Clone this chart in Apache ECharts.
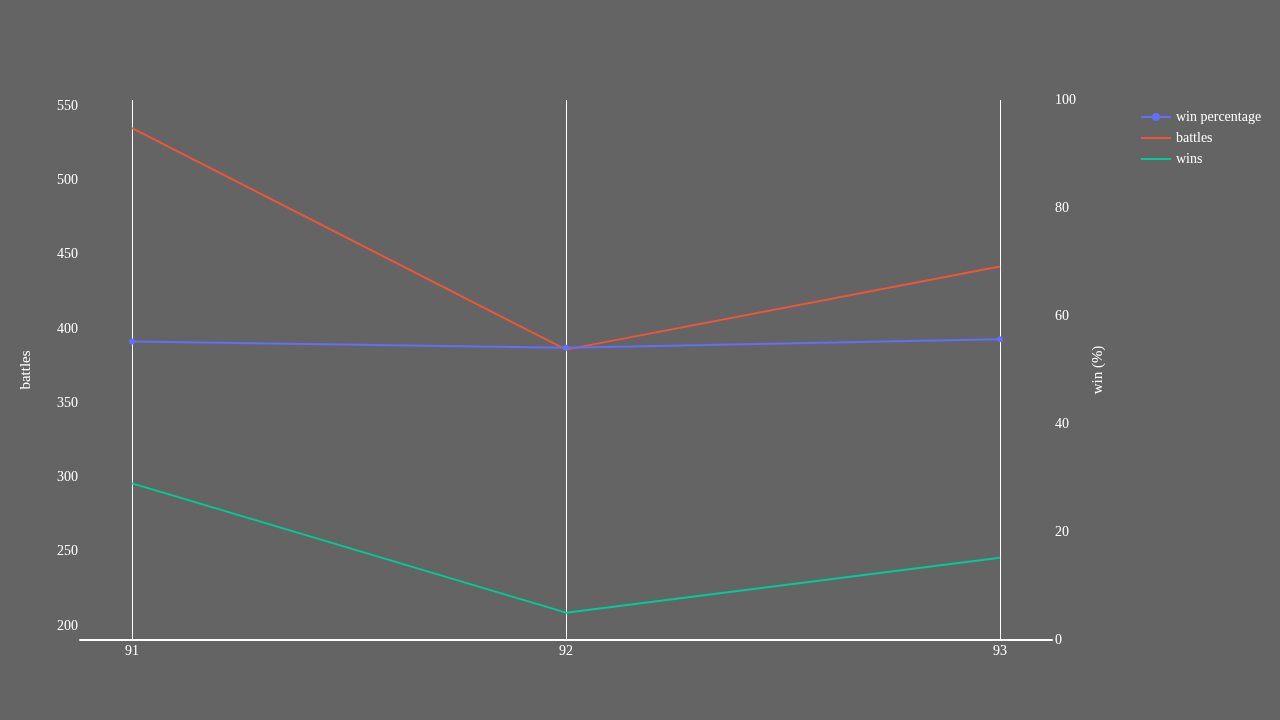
<!DOCTYPE html>
<html>
<head>
<meta charset="utf-8">
<script src="https://cdn.jsdelivr.net/npm/echarts@6/dist/echarts.min.js"></script>
<style>
  html, body { margin: 0; padding: 0; background: #646464; }
  #chart { width: 1280px; height: 720px; }
</style>
</head>
<body>
<div id="chart"></div>
<script>
// 数据
const years = [91, 92, 93]
const battles = [535, 386, 442]
const wins = [296, 209, 246]
const winPct = [55.3, 54.1, 55.7]
const battleTicks = [200, 250, 300, 350, 400, 450, 500, 550]

const font = 'Liberation Serif, DejaVu Serif, serif'
const textColor = '#ffffff'
// 图例里只画线，不画点
const lineIcon = 'path://M0,0 H30 V2 H0 Z'

let chart = echarts.init(document.getElementById('chart'))
const option = {
  backgroundColor: '#646464',
  textStyle: { fontFamily: font, color: textColor },
  grid: { left: 80, right: 228, top: 100, bottom: 80 },
  legend: {
    orient: 'vertical',
    left: 1135,
    top: 105,
    itemWidth: 30,
    itemHeight: 10,
    itemGap: 7,
    textStyle: { color: textColor, fontFamily: font, fontSize: 14 },
    data: [
      { name: 'win percentage' },
      { name: 'battles', icon: lineIcon },
      { name: 'wins', icon: lineIcon }
    ]
  },
  xAxis: {
    type: 'value',
    min: 90.88,
    max: 93.12,
    axisLine: { show: true, lineStyle: { color: '#ffffff', width: 2 } },
    axisTick: { show: false, customValues: years },
    axisLabel: {
      customValues: years,
      color: textColor, fontFamily: font, fontSize: 14, margin: 4
    },
    splitLine: { show: true, lineStyle: { color: '#ffffff', width: 1 } }
  },
  yAxis: [
    {
      type: 'value',
      name: 'battles',
      nameLocation: 'middle',
      nameGap: 46,
      nameTextStyle: { color: textColor, fontFamily: font, fontSize: 15 },
      min: 190.6,
      max: 554,
      axisLine: { show: false },
      axisTick: { show: false, customValues: battleTicks },
      axisLabel: {
        customValues: battleTicks,
        color: textColor, fontFamily: font, fontSize: 14, margin: 2
      },
      splitLine: { show: false }
    },
    {
      type: 'value',
      name: 'win (%)',
      nameLocation: 'middle',
      nameGap: 39,
      nameTextStyle: { color: textColor, fontFamily: font, fontSize: 15 },
      min: 0,
      max: 100,
      interval: 20,
      position: 'right',
      axisLine: { show: false },
      axisTick: { show: false },
      axisLabel: { color: textColor, fontFamily: font, fontSize: 14, margin: 3 },
      splitLine: { show: false }
    }
  ],
  series: [
    {
      name: 'battles',
      type: 'line',
      yAxisIndex: 0,
      symbol: 'none',
      data: years.map((y, i) => [y, battles[i]]),
      lineStyle: { color: '#EF553B', width: 2 },
      itemStyle: { color: '#EF553B' },
      z: 2
    },
    {
      name: 'wins',
      type: 'line',
      yAxisIndex: 0,
      symbol: 'none',
      data: years.map((y, i) => [y, wins[i]]),
      lineStyle: { color: '#00cc96', width: 2 },
      itemStyle: { color: '#00cc96' },
      z: 2
    },
    {
      name: 'win percentage',
      type: 'line',
      yAxisIndex: 1,
      symbol: 'circle',
      symbolSize: 6,
      data: years.map((y, i) => [y, winPct[i]]),
      lineStyle: { color: '#636efa', width: 2 },
      itemStyle: { color: '#636efa' },
      z: 3
    }
  ]
}
chart.setOption(option, true)
</script>
</body>
</html>
